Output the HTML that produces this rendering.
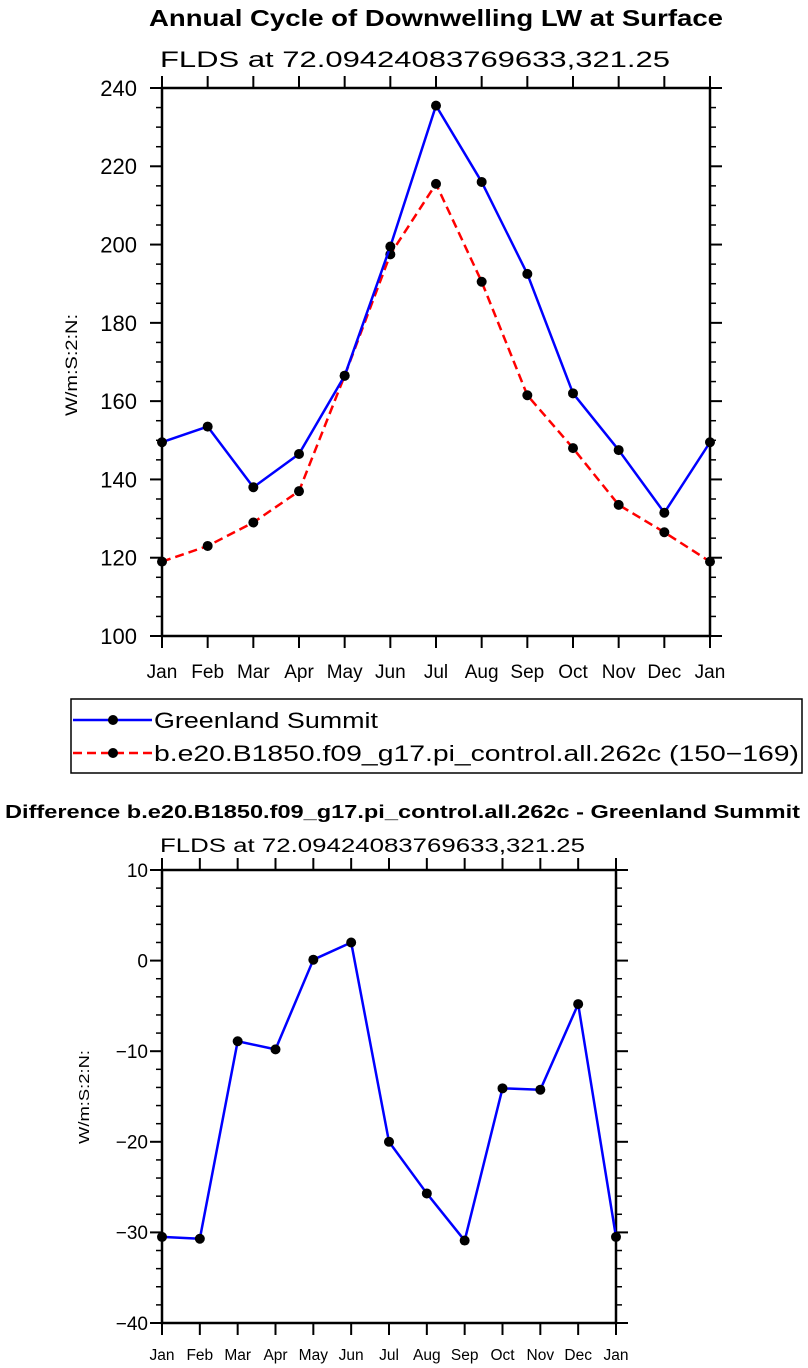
<!DOCTYPE html>
<html><head><meta charset="utf-8">
<style>
html,body{margin:0;padding:0;background:#fff;}
svg{display:block;font-family:"Liberation Sans",sans-serif;}
</style></head>
<body>
<svg id="fig" width="808" height="1368" viewBox="0 0 808 1368" xmlns="http://www.w3.org/2000/svg">
<text x="149" y="26" font-size="23" font-weight="bold" textLength="574" lengthAdjust="spacingAndGlyphs">Annual Cycle of Downwelling LW at Surface</text>
<text x="160" y="67" font-size="22" textLength="510" lengthAdjust="spacingAndGlyphs">FLDS at 72.09424083769633,321.25</text>
<text transform="translate(77,365) rotate(-90)" text-anchor="middle" font-size="17" textLength="102" lengthAdjust="spacingAndGlyphs">W/m:S:2:N:</text>
<g id="top"></g>
<g id="legend">
<rect x="71" y="699" width="731" height="74" fill="none" stroke="#000" stroke-width="1.5"/>
<line x1="73" y1="720" x2="152" y2="720" stroke="#0000ff" stroke-width="2.5"/>
<circle cx="113" cy="720" r="5" fill="#000"/>
<text x="154" y="728" font-size="22" textLength="224" lengthAdjust="spacingAndGlyphs">Greenland Summit</text>
<line x1="73" y1="753" x2="152" y2="753" stroke="#ff0000" stroke-width="2.5" stroke-dasharray="9,5"/>
<circle cx="113" cy="753" r="5" fill="#000"/>
<text x="154" y="761" font-size="22" textLength="645" lengthAdjust="spacingAndGlyphs">b.e20.B1850.f09_g17.pi_control.all.262c (150−169)</text>
</g>
<text x="5" y="818" font-size="18" font-weight="bold" textLength="795" lengthAdjust="spacingAndGlyphs">Difference b.e20.B1850.f09_g17.pi_control.all.262c - Greenland Summit</text>
<text x="160" y="852" font-size="19" textLength="425" lengthAdjust="spacingAndGlyphs">FLDS at 72.09424083769633,321.25</text>
<text transform="translate(89,1097) rotate(-90)" text-anchor="middle" font-size="15" textLength="94" lengthAdjust="spacingAndGlyphs">W/m:S:2:N:</text>
<g id="bottom"></g>
</svg>
<script>
const months = ["Jan","Feb","Mar","Apr","May","Jun","Jul","Aug","Sep","Oct","Nov","Dec","Jan"];
const greenland = [149.5,153.5,138,146.5,166.5,199.5,235.5,216,192.5,162,147.5,131.5,149.5];
const model = [119,123,129,137,166.5,197.5,215.5,190.5,161.5,148,133.5,126.5,119];
const topTicks = [100,120,140,160,180,200,220,240];
const diff = [-30.5,-30.7,-8.9,-9.8,0.1,2.0,-20.0,-25.7,-30.9,-14.1,-14.25,-4.8,-30.5];
const bottomTicks = [-40,-30,-20,-10,0,10];

const NS="http://www.w3.org/2000/svg";
function mk(parent,tag,attrs){const e=document.createElementNS(NS,tag);for(const k in attrs)e.setAttribute(k,attrs[k]);parent.appendChild(e);return e;}

function drawChart(gid,cfg){
  const g=document.getElementById(gid);
  
  
  const {x0,x1,y0,y1,ymin,ymax,minor,major}=cfg;
  const xs=i=>x0+(x1-x0)*i/(months.length-1);
  const ys=v=>y1-(v-ymin)/(ymax-ymin)*(y1-y0);
  for(let v=ymin; v<=ymax+1e-9; v+=minor){
    const isMaj=Math.abs(((v-ymin)/major)-Math.round((v-ymin)/major))<1e-6;
    const L=isMaj?12:6;
    const t1=mk(g,'line',{x1:x0-L,y1:ys(v),x2:x0,y2:ys(v),stroke:'#000','stroke-width':isMaj?2:1.5});
    
    
    const t2=mk(g,'line',{x1:x1,y1:ys(v),x2:x1+L,y2:ys(v),stroke:'#000','stroke-width':isMaj?2:1.5});
    
    
  }
  cfg.ticks.forEach(v=>{
    const t=mk(g,'text',{x:x0-cfg.lgap,y:ys(v)+cfg.fs*0.36,'text-anchor':'end','font-size':cfg.fs});
    t.textContent=(v<0?'−'+Math.abs(v):String(v));
    
    
  });
  months.forEach((m,i)=>{
    const a=mk(g,'line',{x1:xs(i),y1:y1,x2:xs(i),y2:y1+12,stroke:'#000','stroke-width':2});
    
    
    const b=mk(g,'line',{x1:xs(i),y1:y0-12,x2:xs(i),y2:y0,stroke:'#000','stroke-width':2});
    
    
    const t=mk(g,'text',{x:xs(i),y:cfg.labY,'text-anchor':'middle','font-size':cfg.xfs});
    t.textContent=m;
    
    
  });
  const fr=mk(g,'rect',{x:x0,y:y0,width:x1-x0,height:y1-y0,fill:'none',stroke:'#000','stroke-width':2.5});
  
  
  cfg.series.forEach(s=>{
    const pts=s.data.map((v,i)=>xs(i)+','+ys(v)).join(' ');
    const pl=mk(g,'polyline',{points:pts,fill:'none',stroke:s.color,'stroke-width':2.5,'stroke-linejoin':'round'});
    if(s.dash) pl.setAttribute('stroke-dasharray',s.dash);
    
    
    s.data.forEach((v,i)=>{
      const c=mk(g,'circle',{cx:xs(i),cy:ys(v),r:5,fill:'#000'});
      
      
    });
  });
}
drawChart('top',{name:'annual-cycle-chart',x0:162,x1:710,y0:88,y1:636,ymin:100,ymax:240,minor:5,major:20,ticks:topTicks,fs:22,lgap:25,xfs:19,labY:678,
  series:[{name:'model',data:model,color:'#ff0000',dash:'9,5'},{name:'greenland',data:greenland,color:'#0000ff'}]});
drawChart('bottom',{name:'difference-chart',x0:162,x1:616,y0:870,y1:1323,ymin:-40,ymax:10,minor:2,major:10,ticks:bottomTicks,fs:19,lgap:14,xfs:15.5,labY:1360,
  series:[{name:'difference',data:diff,color:'#0000ff'}]});
</script>
</body></html>
